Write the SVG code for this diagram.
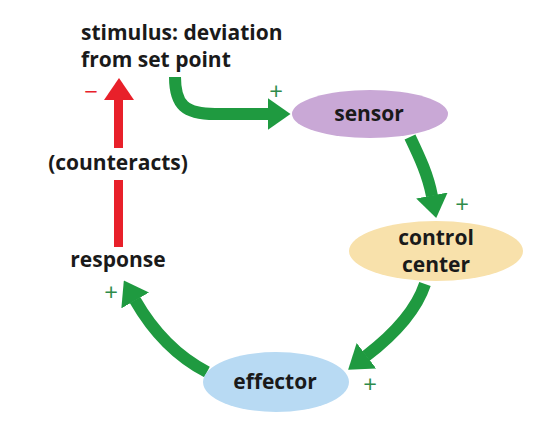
<svg xmlns="http://www.w3.org/2000/svg" width="557" height="428" viewBox="0 0 557 428">
<style>
.lbl{font-family:"Open Sans","Noto Sans","Liberation Sans",sans-serif;font-weight:700;font-size:21px;fill:#1a1a1a}
.mid{text-anchor:middle}
.plus{font-family:"Open Sans","Liberation Sans",sans-serif;font-size:24px;fill:#2e8b4a;text-anchor:middle}
.minus{font-family:"Open Sans","Liberation Sans",sans-serif;font-size:24px;fill:#e8202a;text-anchor:middle}
.g{fill:none;stroke:#1f9a40;stroke-width:12;marker-end:url(#gh)}
</style>
<defs>
<marker id="gh" markerUnits="userSpaceOnUse" viewBox="0 0 23 32" refX="0.5" refY="16" markerWidth="23" markerHeight="32" orient="auto">
<path d="M0,0 L23,16 L0,32 z" fill="#1f9a40"/>
</marker>
</defs>
<rect width="557" height="428" fill="#ffffff"/>
<g id="connectors">
<path class="g" d="M175,77 C175,105 185,114 215,114 L268,114"/>
<path class="g" d="M410,137 C420,158 428,175 432,196"/>
<path class="g" d="M425,284 C418,305 400,330 366,356"/>
<path class="g" d="M207,372 C180,358 155,335 135,300"/>
<g id="counteract-arrow" fill="#e8202a">
<rect x="114" y="99" width="9" height="49"/>
<polygon points="104,100 134,100 119,78"/>
<rect x="114" y="180" width="9" height="67"/>
</g>
</g>
<g id="stimulus">
<text class="lbl" x="81" y="40">stimulus: deviation</text>
<text class="lbl" x="81" y="67">from set point</text>
</g>
<g id="sensor">
<ellipse cx="370" cy="114" rx="78" ry="24" fill="#c9a8d6"/>
<text class="lbl mid" x="369" y="121">sensor</text>
</g>
<g id="control-center">
<ellipse cx="436" cy="251" rx="87" ry="30" fill="#f8e1ab"/>
<text class="lbl mid" x="436" y="245">control</text>
<text class="lbl mid" x="436" y="272">center</text>
</g>
<g id="effector">
<ellipse cx="276" cy="382" rx="73" ry="30" fill="#b8daf3"/>
<text class="lbl mid" x="275" y="389">effector</text>
</g>
<g id="response">
<text class="lbl mid" x="118" y="267">response</text>
</g>
<g id="counteracts">
<text class="lbl mid" x="118" y="170">(counteracts)</text>
</g>
<g id="signs">
<text class="plus" x="276" y="100">+</text>
<text class="plus" x="462" y="213">+</text>
<text class="plus" x="370" y="393">+</text>
<text class="plus" x="111" y="301">+</text>
<text class="minus" x="91" y="100">−</text>
</g>
</svg>
